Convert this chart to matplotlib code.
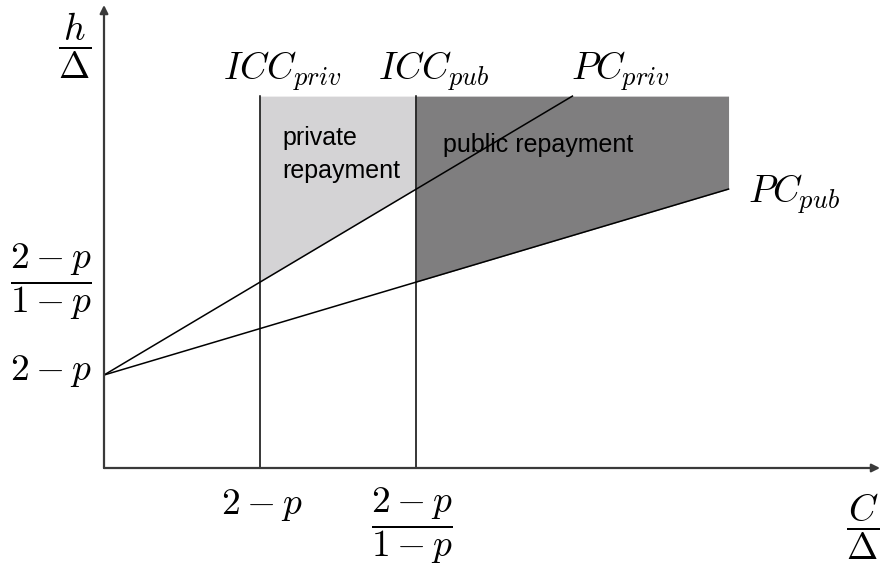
import numpy as np
import matplotlib
matplotlib.use("Agg")
import matplotlib.pyplot as plt

plt.rcParams['mathtext.fontset'] = 'cm'
plt.rcParams['font.family'] = ['Liberation Sans', 'DejaVu Sans']

# line endpoints (in units of the tick positions)
pc_priv_x = [0, 3]
pc_priv_y = [1, 4]
pc_pub_x = [0, 4]
pc_pub_y = [1, 3]
icc_x = [1, 2]      # ICC_priv, ICC_pub
top = 4
tick_vals = [1, 2]
tick_labels = [r'$2-p$', r'$\dfrac{2-p}{1-p}$']

fig = plt.figure(figsize=(8.81, 5.70), dpi=100)
ax = fig.add_axes([104/881, 102/570, 776/881, 463/570])
ax.set_xlim(0, 4.97)
ax.set_ylim(0, 4.98)
ax.axis('off')

# shaded regions
xs = np.array([icc_x[0], icc_x[1]])
ax.fill_between(xs, np.interp(xs, pc_priv_x, pc_priv_y), top, color='#d4d3d5', lw=0)
xs2 = np.array([icc_x[1], pc_pub_x[1]])
ax.fill_between(xs2, np.interp(xs2, pc_pub_x, pc_pub_y), top, color='#7f7e7f', lw=0)

# lines
ax.plot(pc_priv_x, pc_priv_y, color='black', lw=1.1)
ax.plot(pc_pub_x, pc_pub_y, color='black', lw=1.1)
for xv in icc_x:
    ax.plot([xv, xv], [0, top], color='black', lw=1.1)

# axes with arrows
arr = dict(arrowstyle='-|>', color='#3a3a3a', lw=1.6, mutation_scale=12, shrinkA=0, shrinkB=0)
ax.annotate('', xy=(4.97, 0), xytext=(0, 0), arrowprops=arr, annotation_clip=False)
ax.annotate('', xy=(0, 4.98), xytext=(0, 0), arrowprops=arr, annotation_clip=False)

fs = 27
# tick labels
ax.text(-0.08, tick_vals[0] + 0.04, tick_labels[0], fontsize=fs, ha='right', va='center')
ax.text(-0.075, tick_vals[1], tick_labels[1], fontsize=fs, ha='right', va='center')
ax.text(tick_vals[0] + 0.01, -0.40, tick_labels[0], fontsize=fs, ha='center', va='center')
ax.text(tick_vals[1] - 0.03, -0.62, tick_labels[1], fontsize=fs, ha='center', va='center')

# axis labels
ax.text(-0.185, 4.54, r'$\dfrac{h}{\Delta}$', fontsize=fs, ha='center', va='center')
ax.text(4.86, -0.63, r'$\dfrac{C}{\Delta}$', fontsize=fs, ha='center', va='center')

# curve labels
ax.text(1.14, 4.27, r'$ICC_{priv}$', fontsize=fs, ha='center', va='center')
ax.text(2.11, 4.27, r'$ICC_{pub}$', fontsize=fs, ha='center', va='center')
ax.text(3.31, 4.27, r'$PC_{priv}$', fontsize=fs, ha='center', va='center')
ax.text(4.42, 2.94, r'$PC_{pub}$', fontsize=fs, ha='center', va='center')

# region labels
ax.text(1.14, 3.37, 'private\nrepayment', fontsize=18, ha='left', va='center', linespacing=1.45)
ax.text(2.17, 3.47, 'public repayment', fontsize=18, ha='left', va='center')

fig.savefig('out.png', dpi=100)
